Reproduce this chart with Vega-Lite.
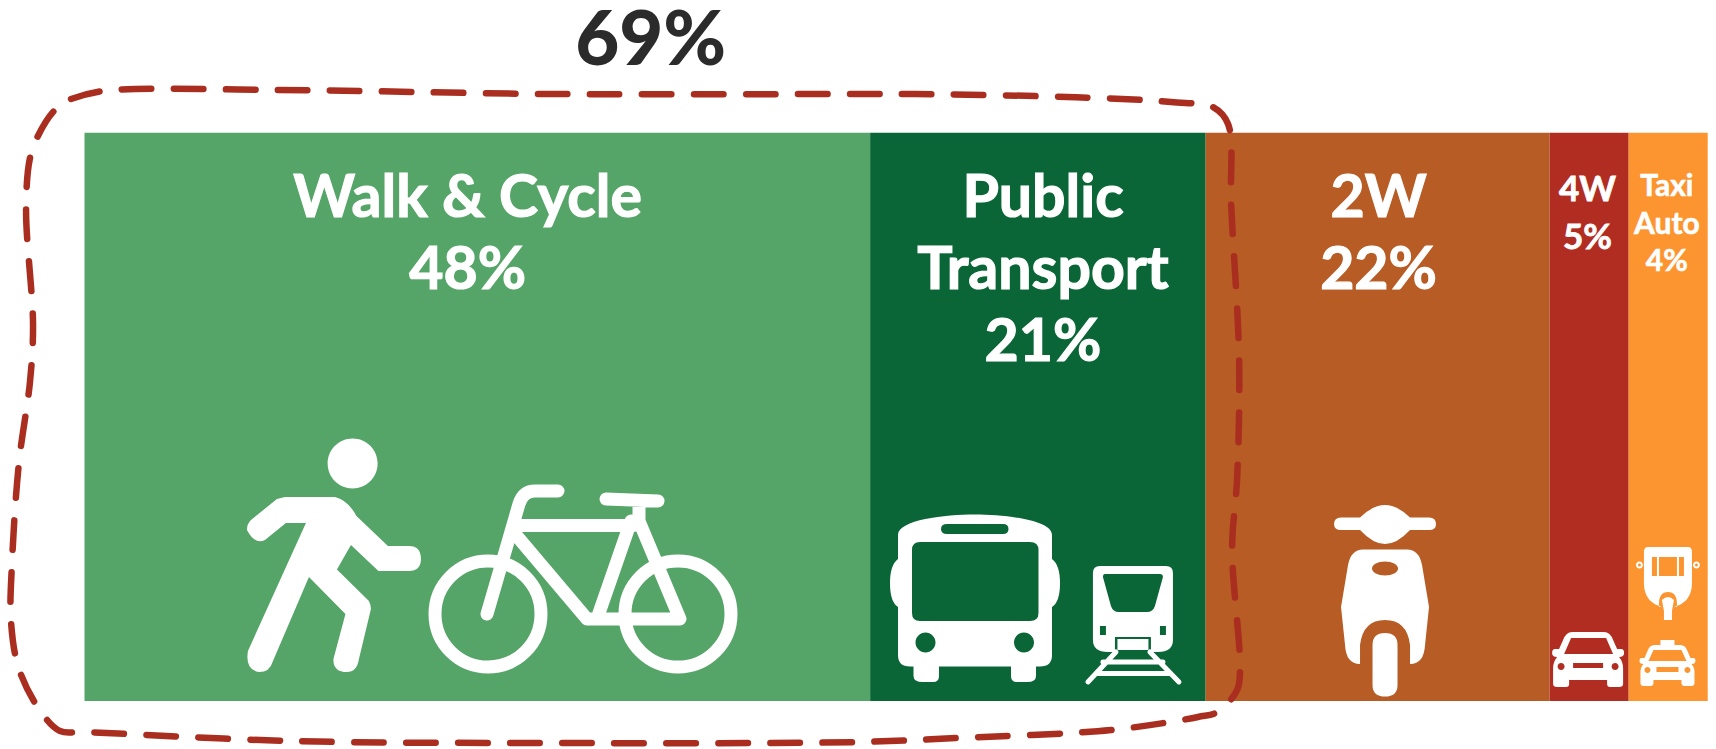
{
"$schema":"https://vega.github.io/schema/vega-lite/v6.json",
"autosize":{"type":"none"},"padding":0,"width":1716,"height":749,"background":"#ffffff",
"config":{"view":{"stroke":null},"text":{"font":"Lato","fontWeight":"bold","baseline":"alphabetic","align":"center"}},
"datasets":{
"bars":[{"mode":"Walk & Cycle","order":1,"share":48.4,"low":0,"high":100},{"mode":"Public Transport","order":2,"share":20.67,"low":0,"high":100},{"mode":"2W","order":3,"share":21.19,"low":0,"high":100},{"mode":"4W","order":4,"share":4.87,"low":0,"high":100},{"mode":"Taxi Auto","order":5,"share":4.87,"low":0,"high":100}],
"labels":[{"group":"big","x":23.6,"y":85.2,"t":"Walk & Cycle"},{"group":"big","x":23.6,"y":72.5,"t":"48%"},{"group":"big","x":59.05,"y":85.2,"t":"Public"},{"group":"big","x":59.05,"y":72.5,"t":"Transport"},{"group":"big","x":59.05,"y":59.8,"t":"21%"},{"group":"big","x":79.72,"y":85.2,"t":"2W"},{"group":"big","x":79.72,"y":72.5,"t":"22%"},{"group":"mid","x":92.59,"y":88.05,"t":"4W"},{"group":"mid","x":92.59,"y":79.5,"t":"5%"},{"group":"small","x":97.48,"y":88.9,"t":"Taxi"},{"group":"small","x":97.48,"y":82.2,"t":"Auto"},{"group":"small","x":97.48,"y":75.7,"t":"4%"},{"group":"total","x":34.88,"y":112.0,"t":"69%"}],
"outline":[{"o":1,"x":-0.83,"y":105.95},{"o":2,"x":1.2,"y":107.37},{"o":3,"x":11.67,"y":107.54},{"o":4,"x":28.62,"y":106.83},{"o":5,"x":47.78,"y":106.83},{"o":6,"x":51.17,"y":106.83},{"o":7,"x":60.53,"y":106.3},{"o":8,"x":66.94,"y":105.42},{"o":9,"x":69.6,"y":104.4},{"o":10,"x":70.45,"y":101.55},{"o":11,"x":70.64,"y":87.26},{"o":12,"x":71.13,"y":60.36},{"o":13,"x":71.01,"y":39.24},{"o":14,"x":70.7,"y":26.74},{"o":15,"x":71.19,"y":5.62},{"o":16,"x":71.01,"y":1.92},{"o":17,"x":69.8,"y":-1.95},{"o":18,"x":68.6,"y":-2.83},{"o":19,"x":63.24,"y":-5.12},{"o":20,"x":53.82,"y":-6.53},{"o":21,"x":47.78,"y":-7.23},{"o":22,"x":28.62,"y":-7.41},{"o":23,"x":12.72,"y":-7.06},{"o":24,"x":0.03,"y":-5.47},{"o":25,"x":-1.51,"y":-5.3},{"o":26,"x":-2.68,"y":-1.95},{"o":27,"x":-4.04,"y":5.62},{"o":28,"x":-4.53,"y":14.06},{"o":29,"x":-4.47,"y":24.1},{"o":30,"x":-4.04,"y":41.88},{"o":31,"x":-3.36,"y":56.14},{"o":32,"x":-3.17,"y":66.17},{"o":33,"x":-3.6,"y":86.41},{"o":34,"x":-3.36,"y":95.56},{"o":35,"x":-2.87,"y":99.44},{"o":36,"x":-1.82,"y":104.01},{"o":37,"x":-0.9,"y":105.6}],
"person":[{"x":15.12,"y":24.8}],"bike":[{"x":30.71,"y":21.28}],"bus":[{"x":54.86,"y":17.76}],"train":[{"x":64.59,"y":13.54}],"scooter":[{"x":80.12,"y":17.76}],"car":[{"x":92.63,"y":7.2}],"taxi":[{"x":97.52,"y":6.67}],"auto":[{"x":97.55,"y":21.28}]
},
"encoding":{
"x":{"field":"x","type":"quantitative","axis":null,"scale":{"domain":[-5.206,100.51],"nice":false,"zero":false}},
"y":{"field":"y","type":"quantitative","axis":null,"scale":{"domain":[-8.467,123.37],"nice":false,"zero":false}}
},
"layer":[
{"data":{"name":"bars"},"transform":[{"stack":"share","groupby":[],"sort":[{"field":"order","order":"ascending"}],"as":["x0","x1"]}],
"mark":{"type":"rect"},
"encoding":{"x":{"field":"x0","type":"quantitative","axis":null,"scale":{"domain":[-5.206,100.51],"nice":false,"zero":false}},"x2":{"field":"x1"},
"y":{"field":"low","type":"quantitative","axis":null,"scale":{"domain":[-8.467,123.37],"nice":false,"zero":false}},"y2":{"field":"high"},
"color":{"field":"mode","type":"nominal","legend":null,"scale":{"domain":["Walk & Cycle","Public Transport","2W","4W","Taxi Auto"],"range":["#55a468","#0b6637","#b85c25","#b12d22","#fc9530"]}}}},
{"data":{"name":"labels"},"transform":[{"filter":"datum.group==='big'"}],"mark":{"type":"text","fontSize":59,"color":"#ffffff","stroke":"#ffffff","strokeWidth":1.2},"encoding":{"text":{"field":"t"}}},
{"data":{"name":"labels"},"transform":[{"filter":"datum.group==='mid'"}],"mark":{"type":"text","fontSize":35,"color":"#ffffff","stroke":"#ffffff","strokeWidth":0.8},"encoding":{"text":{"field":"t"}}},
{"data":{"name":"labels"},"transform":[{"filter":"datum.group==='small'"}],"mark":{"type":"text","fontSize":30,"color":"#ffffff","stroke":"#ffffff","strokeWidth":0.6},"encoding":{"text":{"field":"t"}}},
{"data":{"name":"labels"},"transform":[{"filter":"datum.group==='total'"}],"mark":{"type":"text","fontSize":76,"fontWeight":900,"color":"#2b2b2b"},"encoding":{"text":{"field":"t"}}},
{"data":{"name":"person"},"mark":{"type":"point","filled":true,"color":"#ffffff","opacity":1,"size":4,"shape":"M-45,-63 L5,-63 Q18,-60 26.5,-44 L58,-14 L79,-14 Q91,-14 91,-1 Q91,11 79,11 L48.5,11 L21,-15 L7,9.5 L39,41 Q41,45 41,49 L29,99 Q27,112 17,112 Q3,112 3.5,99 L15.5,54 L-21,17 L-57.4,102 Q-60,112 -71,112 Q-85,110 -82,91 L-24,-37 L-44,-37 L-65,-20 Q-75,-15 -83,-30 Q-83,-36 -79,-40 L-53,-61 Z M-2.3,-96.5 C-2.3,-110.3 8.9,-121.5 22.7,-121.5 C36.5,-121.5 47.7,-110.3 47.7,-96.5 C47.7,-82.7 36.5,-71.5 22.7,-71.5 C8.9,-71.5 -2.3,-82.7 -2.3,-96.5 Z"}},
{"data":{"name":"bike"},"mark":{"type":"point","filled":false,"stroke":"#ffffff","opacity":1,"strokeWidth":13,"size":4,"strokeCap":"round","strokeJoin":"round","shape":"M-148,34 C-148,4.7 -124.3,-19 -95,-19 C-65.7,-19 -42,4.7 -42,34 C-42,63.3 -65.7,87 -95,87 C-124.3,87 -148,63.3 -148,34 Z M42,34 C42,4.7 65.7,-19 95,-19 C124.3,-19 148,4.7 148,34 C148,63.3 124.3,87 95,87 C65.7,87 42,63.3 42,34 Z M-25,-89 L-48,-89 Q-60,-89 -64,-76 L-96,34 M-67,-54.5 L50.6,-54.5 M-67,-45 L4,39 L97,39 L56,-59 L56,-79 M48,-59 L15,36 M23,-81 L75,-79"}},
{"data":{"name":"bus"},"mark":{"type":"point","filled":true,"color":"#ffffff","opacity":1,"size":4,"shape":"M-77,-65 C-77,-80 -30,-85.4 0,-85.4 C30,-85.4 77,-80 77,-65 L77,-41 Q85,-35 85,-17 Q85,2 77,7 L77,55 Q77,66.5 65,66.5 L61,66.5 L61,76 Q61,82 52,82 L42,82 Q36,82 36,76 L36,66.5 L-36,66.5 L-36,76 Q-36,82 -42,82 L-52,82 Q-61.5,82 -61.5,76 L-61.5,66.5 L-65,66.5 Q-77,66.5 -77,55 L-77,7 Q-85,2 -85,-17 Q-85,-35 -77,-41 Z M-55,-58 Q-63,-58 -63,-50 L-63,13 Q-63,21 -55,21 L55,21 Q63.5,21 63.5,13 L63.5,-50 Q63.5,-58 55,-58 Z M-28,-76 Q-34,-76 -34,-71 Q-34,-66 -28,-66 L28,-66 Q33.5,-66 33.5,-71 Q33.5,-76 28,-76 Z M-59.5,42.6 a10,10 0 1,0 20,0 a10,10 0 1,0 -20,0 Z M39,42.6 a10,10 0 1,0 20,0 a10,10 0 1,0 -20,0 Z"}},
{"data":{"name":"train"},"mark":{"type":"point","filled":true,"color":"#ffffff","opacity":1,"size":4,"shape":"M-33,-58 L33,-58 Q40,-58 40,-51 L40,16 Q40,28 25,28 L-25,28 Q-40,28 -40,16 L-40,-51 Q-40,-58 -33,-58 Z M-28,-50 Q-30,-50 -30,-47 L-22,-18 Q-20,-12 -14,-12 L14,-12 Q20,-12 22,-18 L30,-47 Q30,-50 27,-50 Z M-33,2 L-33,11 L-27,11 L-27,2 Z M27,2 L27,11 L33,11 L33,2 Z M-18,13 L-18,28 L18,28 L18,13 Z M-15.5,15 L15.5,15 L15.5,26 L-15.5,26 Z"}},
{"data":{"name":"train"},"mark":{"type":"point","filled":false,"stroke":"#ffffff","opacity":1,"strokeWidth":5,"size":4,"strokeCap":"round","shape":"M-17,28 L-45,58 M17,28 L46,58 M-30,38 L30,38 M-36,49.5 L36,49.5"}},
{"data":{"name":"scooter"},"mark":{"type":"point","filled":true,"color":"#ffffff","opacity":1,"size":4,"shape":"M-44,-82.6 L-25,-82.6 Q-12,-95 0,-95 Q12,-95 25,-82.6 L44,-82.6 Q51,-82.6 51,-76 Q51,-70 44,-70 L25,-70 Q12,-56 0,-56 Q-12,-56 -25,-70 L-44,-70 Q-51,-70 -51,-76 Q-51,-82.6 -44,-82.6 Z M-22,-50.5 L22,-50.5 Q34,-50.5 37,-35 L44,7 L40,45 Q39,64 25,64 L25,45 Q22,20 0,20 Q-22,20 -25,45 L-25,64 Q-39,64 -40,45 L-44,7 L-37,-35 Q-34,-50.5 -22,-50.5 Z M-13,-31.4 a13,7 0 1,0 26,0 a13,7 0 1,0 -26,0 Z M-12.5,45 Q-12.5,33 0,33 Q12.5,33 12.5,45 L12.5,85 Q12.5,96.6 0,96.6 Q-12.5,96.6 -12.5,85 Z"}},
{"data":{"name":"car"},"mark":{"type":"point","filled":true,"color":"#ffffff","opacity":1,"size":4,"shape":"M-16,-28 L16,-28 Q22,-28 25,-20 L29,-11 L33,-11 Q36,-11 36,-7 Q36,-3 31,-3 Q35,2 35,8 L35,24 Q35,27 31,27 L22,27 Q19,27 19,24 L19,20 L-19,20 L-19,24 Q-19,27 -22,27 L-31,27 Q-35,27 -35,24 L-35,8 Q-35,2 -31,-3 Q-36,-3 -36,-7 Q-36,-11 -33,-11 L-29,-11 L-25,-20 Q-22,-28 -16,-28 Z M-17,-22 L-24,-6 L25,-6 L18,-22 Z M-30.5,6.5 a3.5,3.5 0 1,0 7,0 a3.5,3.5 0 1,0 -7,0 Z M23.5,6.5 a3.5,3.5 0 1,0 7,0 a3.5,3.5 0 1,0 -7,0 Z M-15,3 L-15,8 L15,8 L15,3 Z"}},
{"data":{"name":"taxi"},"mark":{"type":"point","filled":true,"color":"#ffffff","opacity":1,"size":4,"shape":"M-7,-23 L7,-23 L7,-18 L13,-18 Q18,-18 20,-12 L23,-5 L26,-5 Q28,-5 28,-2 Q28,1 24,1 Q27,4 27,9 L27,20 Q27,23 24,23 L17,23 Q14,23 14,20 L14,17 L-14,17 L-14,20 Q-14,23 -17,23 L-24,23 Q-27,23 -27,20 L-27,9 Q-27,4 -24,1 Q-28,1 -28,-2 Q-28,-5 -26,-5 L-23,-5 L-20,-12 Q-18,-18 -13,-18 L-7,-18 Z M-14,-13 L-19,-2 L19,-2 L14,-13 Z M-23,7 a3,3 0 1,0 6,0 a3,3 0 1,0 -6,0 Z M17,7 a3,3 0 1,0 6,0 a3,3 0 1,0 -6,0 Z M-11,4 L-11,9 L11,9 L11,4 Z"}},
{"data":{"name":"auto"},"mark":{"type":"point","filled":true,"color":"#ffffff","opacity":1,"size":4,"shape":"M-20,-33 L20,-33 Q24,-33 24,-28 L24,3 Q24,22 6,27 L-6,27 Q-24,22 -24,3 L-24,-28 Q-24,-33 -20,-33 Z M-9,27 L9,27 L9,24 Q9,12 0,12 Q-9,12 -9,24 Z M-6,20 Q0,14 6,20 L4,31 L4,40 L-4,40 L-4,31 Z M-16,-23 L-16,-4 L-11,-4 L-11,-23 Z M-9,-23 L-9,-4 L9,-4 L9,-23 Z M11,-23 L11,-4 L16,-4 L16,-23 Z M-32,-15 a3.5,3.5 0 1,1 7,0 a3.5,3.5 0 1,1 -7,0 Z M-30,-15 a1.5,1.5 0 1,0 3,0 a1.5,1.5 0 1,0 -3,0 Z M25,-15 a3.5,3.5 0 1,1 7,0 a3.5,3.5 0 1,1 -7,0 Z M27,-15 a1.5,1.5 0 1,0 3,0 a1.5,1.5 0 1,0 -3,0 Z"}},
{"data":{"name":"outline"},"mark":{"type":"line","color":"#a92e1f","strokeWidth":6.5,"strokeCap":"round","strokeDash":[29.5,22.5],"interpolate":"catmull-rom"},"encoding":{"order":{"field":"o","type":"quantitative"}}}
]
}
